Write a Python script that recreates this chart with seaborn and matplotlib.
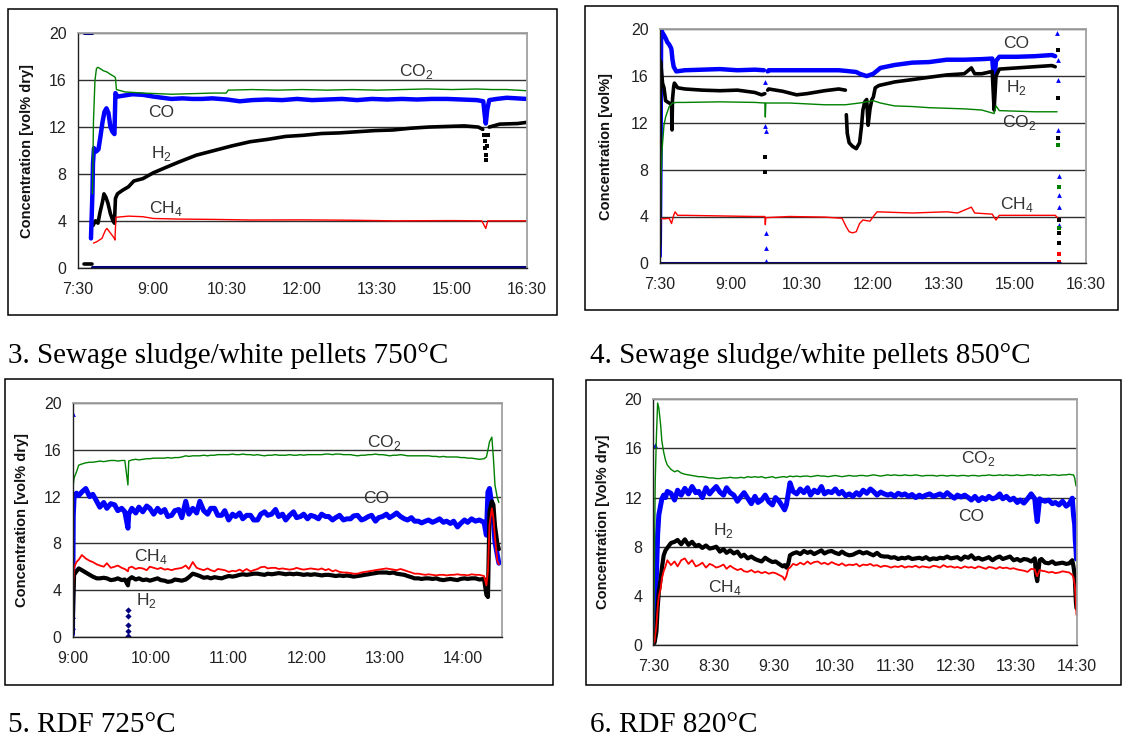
import numpy as np
import pandas as pd
import matplotlib
matplotlib.use("Agg")
import matplotlib.pyplot as plt
from matplotlib.patches import Rectangle
from matplotlib.ticker import FuncFormatter
import seaborn as sns

sns.set_style("white")
plt.rcParams["font.family"] = ["Liberation Sans", "DejaVu Sans"]
plt.rcParams["mathtext.fontset"] = "custom"
plt.rcParams["mathtext.rm"] = "Liberation Sans"

# ---------------- panel 3: sewage sludge 750 C (hours, vol%) ----------------
p1_co2_t = [7.80, 7.82, 7.85, 7.88, 7.91, 7.95, 8.02, 8.09, 8.16, 8.24, 8.26, 8.28, 8.45, 8.81, 9.10,
            9.38, 9.80, 10.20, 10.48, 10.52, 11.0, 11.5, 12.0, 12.5, 13.0, 13.5, 14.0, 14.5, 15.0,
            15.5, 15.8, 16.1, 16.5]
p1_co2 = [6.3, 12.5, 16.0, 17.0, 17.1, 17.0, 16.8, 16.7, 16.5, 16.3, 16.2, 15.2, 15.0, 14.9, 14.85,
          14.8, 14.85, 14.9, 14.9, 15.15, 15.2, 15.15, 15.2, 15.15, 15.2, 15.15, 15.2, 15.25, 15.2,
          15.25, 15.2, 15.2, 15.1]
p1_co_t = [7.77, 7.80, 7.81, 7.83, 7.87, 7.92, 7.96, 8.0, 8.04, 8.08, 8.12, 8.16, 8.2, 8.24, 8.26,
           8.3, 8.45, 8.6, 8.81, 9.02, 9.2, 9.38, 9.6, 9.8, 10.0, 10.2, 10.5, 10.75, 11.0, 11.3,
           11.6, 11.9, 12.2, 12.5, 12.8, 13.1, 13.4, 13.7, 14.0, 14.3, 14.6, 14.9, 15.2, 15.5,
           15.63, 15.66, 15.68, 15.71, 15.75, 15.9, 16.1, 16.3, 16.5]
p1_co = [2.5, 6.5, 8.9, 10.2, 9.9, 10.1, 11.2, 12.4, 13.3, 13.6, 13.2, 12.0, 11.6, 11.4, 14.9,
         14.6, 14.7, 14.8, 14.75, 14.6, 14.5, 14.4, 14.45, 14.4, 14.4, 14.45, 14.35, 14.2, 14.3, 14.35,
         14.3, 14.4, 14.3, 14.35, 14.4, 14.3, 14.4, 14.35, 14.4, 14.35, 14.4, 14.4, 14.35, 14.3,
         14.2, 13.0, 12.3, 13.5, 14.3, 14.4, 14.5, 14.45, 14.4]
p1_h2_t = [7.63, 7.79, None,
           7.81, 7.86, 7.91, 7.95, 8.0, 8.03, 8.07, 8.11, 8.16, 8.21, 8.24, 8.26, 8.3, 8.4, 8.52,
           8.63, 8.81, 9.02, 9.24, 9.52, 9.88, 10.24, 10.6, 10.96, 11.31, 11.67, 12.03, 12.39, 12.74,
           13.1, 13.46, 13.82, 14.17, 14.53, 14.89, 15.25, 15.53, 15.62, None,
           15.75, 15.96, 16.32, 16.5]
p1_h2 = [0.3, 0.3, None,
         3.6, 4.0, 3.8, 4.7, 5.6, 6.3, 6.0, 5.5, 4.6, 4.0, 3.8, 5.9, 6.3, 6.6, 6.9,
         7.4, 7.6, 8.1, 8.5, 9.0, 9.6, 10.0, 10.4, 10.75, 10.95, 11.2, 11.3, 11.45, 11.5,
         11.6, 11.7, 11.75, 11.9, 12.0, 12.05, 12.1, 12.0, 11.8, None,
         12.0, 12.25, 12.3, 12.4]
p1_h2_pts_t = [15.64, 15.66, 15.67, 15.68, 15.69, 15.71, 15.73]
p1_h2_pts = [11.3, 10.8, 10.2, 9.6, 9.2, 10.4, 11.3]
p1_ch4_t = [7.82, 7.88, 7.99, 8.06, 8.09, 8.17, 8.24, 8.25, 8.27, 8.52, 8.81, 9.02, 9.52, 10.24,
            10.96, 12.0, 13.0, 13.82, 15.0, 15.6, 15.68, 15.72, 15.8, 16.5]
p1_ch4 = [2.1, 2.2, 2.5, 3.2, 3.35, 2.9, 2.5, 2.36, 4.3, 4.4, 4.35, 4.2, 4.15, 4.12,
          4.07, 4.08, 4.05, 4.0, 4.02, 4.0, 3.35, 4.0, 4.0, 4.0]
p1_o2_t = [7.63, 7.79, None, 7.80, 16.5]
p1_o2 = [20.0, 20.0, None, 0.05, 0.05]

# ---------------- panel 4: sewage sludge 850 C ----------------
p2_co_t = [7.50, 7.52, 7.53, 7.56, 7.59, 7.63, 7.66, 7.70, 7.74, 7.75, 7.77, 7.795, 7.85, 8.03,
           8.4, 8.77, 9.14, 9.51, 9.70, None, 9.78, 9.80, 10.24, 10.61, 10.98, 11.28, 11.42,
           11.65, 11.72, 11.87, 12.01, 12.16, 12.46, 12.83, 13.19, 13.56, 13.93, 14.30, 14.52,
           14.56, 14.60, 14.67, 15.04, 15.41, 15.78, 15.85]
p2_co = [0.6, 10.3, 19.9, 19.7, 19.5, 19.2, 18.9, 18.7, 18.4, 18.2, 17.4, 16.8, 16.4, 16.5,
         16.55, 16.6, 16.5, 16.55, 16.5, None, 16.4, 16.5, 16.5, 16.5, 16.5, 16.5, 16.45,
         16.35, 16.2, 16.0, 16.2, 16.7, 16.95, 17.15, 17.2, 17.4, 17.4, 17.45, 17.5,
         15.4, 17.3, 17.65, 17.65, 17.7, 17.8, 17.7]
p2_co_pts_t = [9.73, 9.73, 9.735, 9.735, 9.735, 9.74, 15.89, 15.90, 15.90, 15.91, 15.92, 15.92,
               15.93, 15.94]
p2_co_pts = [15.5, 11.7, 11.3, 2.6, 1.3, 0.2, 19.7, 17.4, 15.7, 11.4, 7.5, 5.8, 4.8, 3.3]
p2_h2_t = [7.50, 7.515, 7.53, 7.56, 7.59, 7.61, 7.625, 7.66, 7.70, 7.74, 7.75, 7.76, 7.77, 7.795,
           7.81, 7.88, 8.03, 8.4, 8.77, 9.14, 9.51, 9.65, 9.72, None, 9.78, 9.80, 10.10, 10.39,
           10.61, 10.98, 11.28, 11.42, None,
           11.44, 11.46, 11.50, 11.57, 11.65, 11.72, 11.76, 11.79, 11.83, 11.87, 11.90, 11.94,
           11.98, 12.01, 12.05, 12.13, 12.24, 12.46, 12.83, 13.19, 13.56, 13.93, 14.08, 14.15,
           14.30, 14.52, 14.56, 14.60, 14.67, 15.04, 15.41, 15.78, 15.85]
p2_h2 = [1.5, 17.3, 16.8, 15.4, 15.0, 14.4, 13.9, 13.8, 13.7, 13.6, 13.5, 11.4, 14.0, 15.1,
         15.4, 15.0, 14.9, 14.8, 14.75, 14.8, 14.6, 14.4, 14.5, None, 14.8, 14.9, 14.7, 14.4,
         14.5, 14.75, 14.9, 14.8, None,
         12.7, 11.1, 10.3, 10.0, 9.8, 10.3, 11.7, 13.1, 13.8, 14.0, 11.8, 13.2,
         14.0, 14.2, 15.0, 15.2, 15.3, 15.5, 15.7, 15.9, 16.1, 16.2, 16.7, 16.2,
         16.2, 16.4, 13.1, 16.0, 16.6, 16.7, 16.8, 16.9, 16.8]
p2_h2_pts_t = [9.73, 9.73, 15.90, 15.91, 15.91, 15.93, 15.93, 15.94]
p2_h2_pts = [9.1, 7.8, 18.2, 14.1, 10.7, 3.7, 2.6, 1.7]
p2_co2_t = [7.50, 7.53, 7.55, 7.59, 7.625, 7.70, 7.77, 7.85, 8.03, 8.77, 9.51, 9.72, 9.73, 9.74,
            10.24, 10.98, 11.42, 11.72, 12.01, 12.16, 12.46, 12.83, 13.19, 13.56, 13.93, 14.30,
            14.56, 14.60, 14.67, 15.04, 15.41, 15.89]
p2_co2 = [0.2, 7.4, 9.7, 11.8, 12.5, 13.4, 13.7, 13.75, 13.75, 13.8, 13.75, 13.7, 12.5, 13.7,
          13.7, 13.55, 13.55, 13.7, 13.9, 13.7, 13.45, 13.4, 13.3, 13.25, 13.2, 13.1,
          12.8, 13.45, 13.05, 13.0, 12.95, 12.95]
p2_co2_pts_t = [15.91, 15.92, 15.93]
p2_co2_pts = [10.1, 6.5, 3.0]
p2_ch4_t = [7.50, 7.52, 7.59, 7.70, 7.75, 7.795, 7.825, 7.88, 8.03, 8.77, 9.51, 9.72, 9.73, 9.74,
            10.24, 10.98, 11.35, 11.44, 11.50, 11.57, 11.65, 11.72, 11.79, 11.94, 12.01, 12.09,
            12.46, 12.83, 13.19, 13.56, 13.79, 14.08, 14.15, 14.52, 14.60, 14.67, 15.41, 15.85,
            15.90]
p2_ch4 = [1.0, 3.85, 3.8, 3.85, 3.4, 4.1, 4.4, 4.1, 4.1, 4.05, 4.0, 4.0, 3.3, 3.9,
          4.0, 3.95, 3.85, 3.1, 2.7, 2.6, 2.7, 3.4, 3.7, 3.6, 4.0, 4.4,
          4.35, 4.3, 4.35, 4.4, 4.3, 4.8, 4.3, 4.2, 3.7, 4.1, 4.1, 4.1,
          3.9]
p2_ch4_pts_t = [15.92, 15.93]
p2_ch4_pts = [0.8, 0.1]
p2_o2_t = [7.50, 15.95]
p2_o2 = [0.05, 0.05]

# ---------------- panel 5: RDF 725 C (shared time grid) ----------------
p3_t = [9.0, 9.01, 9.02, 9.05, 9.08, 9.12, 9.17, 9.22, 9.26, 9.31,
        9.35, 9.40, 9.44, 9.49, 9.54, 9.58, 9.63, 9.67, 9.71, 9.72,
        9.76, 9.81, 9.85, 9.90, 9.95, 9.99, 10.04, 10.09, 10.13, 10.18,
        10.22, 10.27, 10.31, 10.36, 10.40, 10.45, 10.49, 10.54, 10.59, 10.63,
        10.68, 10.73, 10.77, 10.82, 10.86, 10.91, 10.95, 11.00, 11.05, 11.09,
        11.14, 11.18, 11.23, 11.28, 11.32, 11.37, 11.41, 11.46, 11.50, 11.55,
        11.60, 11.64, 11.69, 11.73, 11.78, 11.83, 11.87, 11.92, 11.96, 12.01,
        12.05, 12.10, 12.15, 12.19, 12.24, 12.28, 12.33, 12.37, 12.42, 12.47,
        12.51, 12.56, 12.60, 12.65, 12.70, 12.74, 12.79, 12.83, 12.88, 12.92,
        12.97, 13.02, 13.06, 13.11, 13.15, 13.20, 13.25, 13.29, 13.34, 13.38,
        13.43, 13.47, 13.52, 13.56, 13.61, 13.66, 13.70, 13.75, 13.79, 13.84,
        13.88, 13.93, 13.97, 14.02, 14.06, 14.11, 14.16, 14.21, 14.27, 14.30,
        14.32, 14.34, 14.37, 14.39, 14.41, 14.44, 14.46]
p3_co2 = [12.7, 13.0, 13.6, 14.1, 14.7, 14.8, 14.9, 14.95, 14.95, 15.0,
          15.05, 15.0, 15.05, 15.1, 15.1, 15.05, 15.1, 15.1, 13.0, 15.05,
          15.15, 15.2, 15.15, 15.2, 15.25, 15.25, 15.3, 15.3, 15.3, 15.3,
          15.35, 15.3, 15.35, 15.35, 15.4, 15.5, 15.45, 15.5, 15.5, 15.5,
          15.55, 15.5, 15.55, 15.55, 15.6, 15.6, 15.6, 15.6, 15.65, 15.6,
          15.6, 15.65, 15.6, 15.6, 15.55, 15.6, 15.55, 15.5, 15.55, 15.55,
          15.6, 15.55, 15.55, 15.55, 15.6, 15.55, 15.55, 15.6, 15.55, 15.6,
          15.6, 15.6, 15.6, 15.6, 15.65, 15.65, 15.6, 15.65, 15.65, 15.6,
          15.6, 15.6, 15.55, 15.5, 15.55, 15.55, 15.6, 15.6, 15.65, 15.6,
          15.6, 15.55, 15.5, 15.55, 15.55, 15.6, 15.55, 15.5, 15.5, 15.5,
          15.5, 15.5, 15.5, 15.5, 15.45, 15.45, 15.4, 15.45, 15.4, 15.4,
          15.4, 15.4, 15.35, 15.35, 15.3, 15.3, 15.25, 15.2, 15.25, 15.4,
          16.0, 16.7, 17.1, 15.3, 13.0, 11.9, 11.5]
p3_co = [0.2, 10.4, 11.9, 12.3, 12.1, 12.4, 12.7, 12.0, 12.2, 11.6,
         11.1, 11.5, 11.0, 11.4, 11.3, 10.8, 11.0, 10.7, 9.3, 10.5,
         11.0, 10.6, 11.1, 10.7, 11.2, 11.0, 10.5, 11.0, 10.65, 10.9,
         10.3, 10.4, 10.8, 10.9, 10.2, 11.6, 10.5, 11.0, 10.6, 11.6,
         10.8, 10.5, 11.0, 11.0, 10.4, 10.4, 10.8, 10.0, 10.5, 10.3,
         10.6, 10.1, 10.4, 10.4, 10.0, 10.0, 10.5, 10.7, 10.4, 10.5,
         10.9, 10.3, 10.5, 10.0, 10.4, 10.7, 10.2, 10.3, 10.5, 10.1,
         10.4, 10.3, 10.1, 10.5, 10.3, 10.3, 10.0, 10.2, 10.4, 10.0,
         10.1, 10.1, 10.35, 10.4, 10.0, 10.1, 10.3, 10.4, 9.9, 10.2,
         10.3, 10.5, 10.2, 10.4, 10.6, 10.3, 10.1, 10.0, 10.2, 9.9,
         9.9, 9.75, 9.9, 10.0, 9.8, 9.95, 10.1, 9.8, 9.9, 9.7,
         9.9, 9.4, 9.7, 10.0, 9.8, 10.1, 9.9, 10.0, 9.8, 8.7,
         12.4, 12.7, 11.2, 10.0, 8.1, 7.0, 6.3]
p3_co_pts_t = [9.005, 9.005, 9.008]
p3_co_pts = [19.1, 1.8, 0.8]
p3_ch4 = [0.5, 4.5, 5.9, 6.4, 6.6, 7.0, 6.7, 6.5, 6.4, 6.2,
          6.1, 6.0, 6.3, 5.9, 6.0, 6.1, 5.9, 5.8, 5.6, 5.9,
          6.0, 5.8, 5.9, 5.85, 5.7, 6.0, 5.9, 5.8, 5.9, 5.75,
          5.8, 5.7, 5.8, 5.85, 5.9, 6.1, 5.8, 6.4, 5.9, 5.8,
          5.7, 5.85, 5.7, 5.6, 5.8, 5.75, 5.7, 5.55, 5.65, 5.6,
          5.75, 5.6, 5.8, 5.6, 5.7, 5.8, 5.95, 6.0, 5.85, 5.9,
          5.9, 5.8, 5.85, 5.8, 5.75, 5.8, 5.9, 5.8, 5.75, 5.8,
          5.85, 5.8, 5.75, 5.85, 5.7, 5.8, 5.6, 5.7, 5.55, 5.5,
          5.5, 5.45, 5.4, 5.4, 5.5, 5.55, 5.6, 5.65, 5.7, 5.75,
          5.8, 5.85, 5.8, 5.75, 5.7, 5.8, 5.7, 5.6, 5.5, 5.4,
          5.4, 5.35, 5.3, 5.35, 5.3, 5.25, 5.3, 5.3, 5.25, 5.3,
          5.3, 5.35, 5.3, 5.3, 5.25, 5.35, 5.3, 5.3, 5.2, 4.4,
          5.6, 9.6, 11.0, 10.2, 8.5, 6.5, 6.2]
p3_h2 = [0.3, 3.0, 5.3, 5.6, 5.85, 5.7, 5.5, 5.3, 5.15, 5.0,
         5.0, 5.05, 5.0, 4.85, 4.9, 5.0, 4.85, 4.9, 4.4, 4.9,
         5.1, 4.9, 5.0, 4.85, 4.9, 4.8, 4.9, 5.0, 4.85, 4.8,
         4.7, 4.75, 4.9, 4.85, 4.8, 4.9, 5.1, 5.4, 5.3, 5.2,
         5.05, 5.1, 5.0, 5.1, 5.05, 5.0, 5.1, 5.2, 5.15, 5.2,
         5.3, 5.35, 5.3, 5.35, 5.4, 5.4, 5.35, 5.3, 5.4, 5.35,
         5.4, 5.45, 5.4, 5.35, 5.4, 5.35, 5.4, 5.35, 5.3, 5.35,
         5.3, 5.35, 5.3, 5.25, 5.3, 5.3, 5.25, 5.2, 5.25, 5.2,
         5.25, 5.2, 5.15, 5.2, 5.25, 5.3, 5.35, 5.4, 5.45, 5.5,
         5.5, 5.5, 5.45, 5.5, 5.4, 5.35, 5.3, 5.2, 5.1, 5.0,
         5.0, 4.95, 5.0, 5.0, 4.95, 5.0, 4.9, 4.85, 4.9, 4.95,
         4.9, 4.85, 4.95, 5.0, 4.95, 5.0, 5.0, 4.9, 4.95, 3.6,
         3.4, 10.7, 11.6, 11.3, 9.5, 8.0, 7.5]
p3_o2_pts_t = [9.71, 9.71, 9.71, 9.715, 9.715]
p3_o2_pts = [2.3, 1.8, 1.0, 0.5, 0.1]

# ---------------- panel 6: RDF 820 C (shared time grid) ----------------
p4_t = [7.50, 7.51, 7.52, 7.53, 7.55, 7.57, 7.59, 7.62, 7.64, 7.67,
        7.70, 7.73, 7.79, 7.85, 7.90, 7.96, 8.02, 8.08, 8.14, 8.20,
        8.25, 8.31, 8.37, 8.43, 8.48, 8.54, 8.60, 8.66, 8.71, 8.77,
        8.83, 8.89, 8.95, 9.00, 9.06, 9.12, 9.18, 9.23, 9.29, 9.35,
        9.41, 9.47, 9.52, 9.58, 9.64, 9.67, 9.70, 9.73, 9.76, 9.81,
        9.87, 9.93, 9.99, 10.05, 10.10, 10.16, 10.22, 10.28, 10.33, 10.39,
        10.45, 10.51, 10.57, 10.62, 10.68, 10.74, 10.80, 10.86, 10.91, 10.97,
        11.03, 11.09, 11.14, 11.20, 11.26, 11.32, 11.38, 11.43, 11.49, 11.55,
        11.61, 11.66, 11.72, 11.78, 11.84, 11.90, 11.95, 12.01, 12.07, 12.13,
        12.19, 12.24, 12.30, 12.36, 12.42, 12.48, 12.53, 12.59, 12.65, 12.71,
        12.76, 12.82, 12.88, 12.94, 13.00, 13.05, 13.11, 13.17, 13.23, 13.28,
        13.34, 13.40, 13.46, 13.52, 13.57, 13.63, 13.69, 13.75, 13.81, 13.83,
        13.85, 13.89, 13.92, 13.98, 14.04, 14.10, 14.15, 14.21, 14.27, 14.33,
        14.38, 14.43, 14.45, 14.47, 14.48, 14.49, 14.50]
p4_co2 = [0.2, 3.0, 8.4, 13.3, 17.0, 19.7, 19.3, 17.9, 16.6, 15.7,
          15.05, 14.65, 14.3, 14.1, 14.2, 14.0, 13.9, 13.85, 13.8, 13.75,
          13.7, 13.7, 13.65, 13.6, 13.6, 13.55, 13.55, 13.6, 13.6, 13.65,
          13.6, 13.6, 13.65, 13.6, 13.7, 13.65, 13.7, 13.65, 13.7, 13.6,
          13.65, 13.7, 13.6, 13.65, 13.7, 13.7, 13.65, 13.7, 13.75, 13.7,
          13.75, 13.7, 13.75, 13.75, 13.7, 13.75, 13.8, 13.75, 13.75, 13.7,
          13.75, 13.8, 13.75, 13.7, 13.75, 13.8, 13.75, 13.75, 13.8, 13.8,
          13.75, 13.8, 13.85, 13.8, 13.75, 13.8, 13.85, 13.8, 13.85, 13.8,
          13.8, 13.85, 13.8, 13.8, 13.85, 13.8, 13.75, 13.8, 13.8, 13.8,
          13.75, 13.8, 13.8, 13.75, 13.8, 13.8, 13.75, 13.8, 13.8, 13.75,
          13.8, 13.8, 13.75, 13.8, 13.8, 13.85, 13.8, 13.8, 13.85, 13.8,
          13.85, 13.8, 13.8, 13.85, 13.8, 13.8, 13.85, 13.85, 13.8, 13.8,
          13.85, 13.8, 13.85, 13.85, 13.8, 13.85, 13.85, 13.8, 13.85, 13.85,
          13.9, 13.85, 13.85, 13.6, 13.3, 13.0, 12.9]
p4_co = [0.2, 0.5, 1.6, 3.0, 5.7, 9.0, 10.6, 11.4, 11.9, 12.2,
         12.0, 12.5, 12.35, 11.8, 12.6, 12.2, 12.75, 12.3, 12.9, 12.4,
         12.5, 12.0, 12.8, 12.3, 12.6, 12.9, 12.45, 12.2, 12.8, 12.4,
         12.2, 11.7, 12.1, 12.4, 11.95, 11.5, 12.1, 11.6, 11.8, 12.2,
         11.65, 11.4, 12.0, 11.7, 11.25, 11.0, 11.4, 12.3, 13.2, 12.5,
         12.3, 12.7, 12.4, 12.8, 12.2, 12.6, 12.4, 12.9, 12.3, 12.5,
         12.4, 12.7, 12.3, 12.5, 12.15, 12.3, 12.1, 12.4, 12.2, 12.6,
         12.35, 12.7, 12.5, 12.2, 12.45, 12.3, 12.2, 12.3, 12.1, 12.35,
         12.2, 12.3, 12.1, 12.25, 12.0, 12.2, 12.05, 12.2, 12.3, 12.1,
         12.2, 12.3, 12.1, 12.4, 12.15, 11.95, 12.2, 12.05, 12.2, 12.0,
         11.8, 12.1, 11.75, 12.0, 11.85, 12.1, 11.9, 12.0, 12.3, 11.9,
         12.1, 11.8, 11.95, 11.6, 11.8, 11.55, 11.9, 12.3, 11.9, 10.85,
         10.05, 11.9, 11.8, 11.7, 11.8, 11.5, 11.6, 11.4, 11.7, 11.3,
         11.5, 11.95, 10.6, 9.8, 8.5, 7.9, 7.0]
p4_co_pts_t = [7.52]
p4_co_pts = [16.3]
p4_h2 = [0.1, 0.2, 0.2, 0.5, 1.1, 3.0, 4.35, 5.4, 6.25, 7.3,
         7.7, 7.9, 8.3, 8.4, 8.55, 8.2, 8.6, 8.15, 8.4, 8.05,
         8.15, 7.9, 8.1, 7.85, 7.9, 8.0, 7.6, 7.8, 7.5, 7.7,
         7.45, 7.6, 7.2, 7.35, 7.05, 7.2, 7.0, 6.9, 6.8, 7.1,
         6.9, 6.75, 6.8, 6.6, 6.4, 6.5, 6.3, 6.6, 7.3, 7.45,
         7.55, 7.4, 7.65, 7.5, 7.6, 7.4, 7.55, 7.7, 7.45, 7.6,
         7.65, 7.5, 7.4, 7.6, 7.4, 7.3, 7.35, 7.5, 7.6, 7.45,
         7.55, 7.4, 7.3, 7.5, 7.25, 7.2, 7.2, 7.1, 7.15, 7.0,
         7.1, 7.05, 7.15, 7.0, 7.05, 7.1, 7.0, 7.15, 6.95, 7.05,
         7.0, 7.1, 7.05, 7.2, 7.05, 7.1, 7.15, 6.95, 7.2, 7.1,
         7.3, 7.0, 7.1, 6.95, 7.05, 7.15, 6.9, 7.1, 7.2, 7.0,
         7.1, 7.2, 6.9, 7.0, 6.85, 7.0, 6.95, 6.8, 7.05, 5.7,
         5.2, 6.9, 7.0, 6.7, 6.65, 6.8, 6.6, 6.65, 6.7, 6.6,
         6.65, 6.9, 6.4, 5.7, 4.5, 3.5, 3.0]
p4_ch4 = [0.1, 0.2, 0.3, 0.8, 1.6, 3.0, 4.0, 4.6, 5.4, 6.0,
          6.4, 6.9, 6.5, 6.8, 6.4, 6.9, 7.05, 6.6, 6.9, 6.4,
          6.5, 6.7, 6.3, 6.6, 6.5, 6.3, 6.4, 6.55, 6.2, 6.45,
          6.25, 6.1, 6.2, 6.0, 5.95, 6.1, 5.9, 6.0, 5.85, 5.95,
          5.8, 5.9, 5.85, 5.7, 5.55, 5.3, 5.6, 6.2, 6.3, 6.6,
          6.5, 6.7, 6.55, 6.8, 6.6, 6.75, 6.8, 6.6, 6.7, 6.55,
          6.75, 6.6, 6.5, 6.65, 6.45, 6.55, 6.5, 6.6, 6.4, 6.55,
          6.5, 6.6, 6.45, 6.5, 6.35, 6.45, 6.4, 6.3, 6.4, 6.35,
          6.45, 6.3, 6.4, 6.35, 6.45, 6.3, 6.4, 6.35, 6.3, 6.45,
          6.4, 6.3, 6.5, 6.35, 6.4, 6.3, 6.35, 6.25, 6.4, 6.3,
          6.35, 6.25, 6.4, 6.3, 6.2, 6.35, 6.3, 6.2, 6.35, 6.25,
          6.3, 6.2, 6.25, 6.15, 6.1, 6.05, 5.95, 6.2, 6.15, 5.8,
          5.6, 6.1, 6.05, 6.0, 5.9, 5.95, 5.85, 5.9, 6.0, 5.95,
          5.9, 5.7, 5.5, 4.9, 4.35, 3.4, 2.45]

C_CO, C_H2, C_CO2, C_CH4, C_O2 = "#0000ff", "#000000", "#008000", "#ff0000", "#000080"

W, H = 1128, 738


def draw(ax, t, v, color, lw):
    # None in the lists breaks the trace into separate pieces
    seg, s = [], 0
    for a in t:
        if a is None:
            s += 1
        seg.append(s)
    df = pd.DataFrame({"t": t, "v": v, "seg": seg}).dropna()
    sns.lineplot(data=df, x="t", y="v", units="seg", estimator=None, sort=False,
                 color=color, lw=lw, ax=ax, legend=False)


def dots(ax, t, v, color, size=9, marker="s"):
    sns.scatterplot(x=t, y=v, color=color, s=size, marker=marker, linewidth=0,
                    ax=ax, legend=False)


def hm(x, pos):
    h = int(x)
    m = int(round((x - h) * 60))
    return f"{h}:{m:02d}"


def make_ax(fig, l, r, t, b):
    return fig.add_axes([l / W, 1 - b / H, (r - l) / W, (b - t) / H])


def finish(ax, xlim, xticks, ylabel, lab_x):
    ax.set_xlim(*xlim)
    ax.set_ylim(0, 20)
    ax.set_yticks([0, 4, 8, 12, 16, 20])
    ax.set_xticks(xticks)
    ax.xaxis.set_major_formatter(FuncFormatter(hm))
    ax.set_axisbelow(True)
    ax.yaxis.grid(True, color="#303030", lw=1.0)
    for side in ["top", "right"]:
        ax.spines[side].set_color("#a0a0a0")
        ax.spines[side].set_linewidth(1.3)
    for side in ["left", "bottom"]:
        ax.spines[side].set_color("#202020")
        ax.spines[side].set_linewidth(1.0)
    ax.tick_params(axis="both", direction="out", length=4, width=1, color="#202020",
                   labelsize=11.5, labelcolor="#222222", pad=4)
    ax.tick_params(axis="x", pad=6)
    ax.set_xlabel("")
    ax.set_ylabel(ylabel, fontsize=10.5, fontweight="bold", color="#111111")
    ax.yaxis.set_label_coords(lab_x, 0.5)


def gas_label(ax, x, y, s):
    ax.text(x, y, s, ha="center", va="center", fontsize=12.5, color="#333333")


fig = plt.figure(figsize=(W / 100, H / 100), dpi=100)

# framed boxes round each chart
for (x0, y0, x1, y1) in [(8, 9, 557, 315), (585, 6, 1118, 310),
                         (5, 379, 553, 685), (586, 380, 1121, 685)]:
    fig.add_artist(Rectangle((x0 / W, 1 - y1 / H), (x1 - x0) / W, (y1 - y0) / H,
                             transform=fig.transFigure, fill=False, ec="black", lw=1.1))

ticks_15 = [7.5, 9.0, 10.5, 12.0, 13.5, 15.0, 16.5]

ax1 = make_ax(fig, 77.5, 526.7, 33.3, 267.7)
draw(ax1, p1_h2_t, p1_h2, C_H2, 2.6)
dots(ax1, p1_h2_pts_t, p1_h2_pts, C_H2)
draw(ax1, p1_co_t, p1_co, C_CO, 3.2)
draw(ax1, p1_ch4_t, p1_ch4, C_CH4, 1.0)
draw(ax1, p1_co2_t, p1_co2, C_CO2, 1.0)
draw(ax1, p1_o2_t, p1_o2, C_O2, 2.2)
finish(ax1, (7.5, 16.5), ticks_15, "Concentration [vol% dry]", -0.097)
gas_label(ax1, 14.28, 16.7, r"CO$_\mathregular{2}$")
gas_label(ax1, 9.17, 13.2, "CO")
gas_label(ax1, 9.18, 9.75, r"H$_\mathregular{2}$")
gas_label(ax1, 9.27, 5.05, r"CH$_\mathregular{4}$")

ax2 = make_ax(fig, 659.7, 1086, 29.3, 263.3)
draw(ax2, p2_co_t, p2_co, C_CO, 3.2)
dots(ax2, p2_co_pts_t, p2_co_pts, C_CO, 12, "^")
draw(ax2, p2_h2_t, p2_h2, C_H2, 2.6)
dots(ax2, p2_h2_pts_t, p2_h2_pts, C_H2)
draw(ax2, p2_ch4_t, p2_ch4, C_CH4, 1.0)
dots(ax2, p2_ch4_pts_t, p2_ch4_pts, C_CH4, 5)
draw(ax2, p2_co2_t, p2_co2, C_CO2, 1.0)
dots(ax2, p2_co2_pts_t, p2_co2_pts, C_CO2, 5)
draw(ax2, p2_o2_t, p2_o2, C_O2, 2.2)
finish(ax2, (7.5, 16.5), ticks_15, "Concentration [vol%]", -0.11)
gas_label(ax2, 15.02, 18.8, "CO")
gas_label(ax2, 15.04, 15.0, r"H$_\mathregular{2}$")
gas_label(ax2, 15.08, 12.0, r"CO$_\mathregular{2}$")
gas_label(ax2, 15.04, 5.0, r"CH$_\mathregular{4}$")

ax3 = make_ax(fig, 72.5, 502, 403.3, 636.7)
draw(ax3, p3_t, p3_co, C_CO, 3.6)
dots(ax3, p3_co_pts_t, p3_co_pts, C_CO, 12, "^")
draw(ax3, p3_t, p3_h2, C_H2, 3.0)
draw(ax3, p3_t, p3_ch4, C_CH4, 1.3)
draw(ax3, p3_t, p3_co2, C_CO2, 1.0)
dots(ax3, p3_o2_pts_t, p3_o2_pts, C_O2, 10, "D")
finish(ax3, (9.0, 14.5), [9.0, 10.0, 11.0, 12.0, 13.0, 14.0],
       "Concentration [vol% dry]", -0.102)
gas_label(ax3, 12.99, 16.6, r"CO$_\mathregular{2}$")
gas_label(ax3, 12.89, 11.8, "CO")
gas_label(ax3, 10.0, 6.86, r"CH$_\mathregular{4}$")
gas_label(ax3, 9.95, 3.14, r"H$_\mathregular{2}$")

ax4 = make_ax(fig, 653.4, 1076.5, 399.3, 645)
draw(ax4, p4_t, p4_co, C_CO, 3.6)
dots(ax4, p4_co_pts_t, p4_co_pts, C_CO, 12, "^")
draw(ax4, p4_t, p4_h2, C_H2, 3.0)
draw(ax4, p4_t, p4_ch4, C_CH4, 1.3)
draw(ax4, p4_t, p4_co2, C_CO2, 1.0)
finish(ax4, (7.5, 14.5), [7.5, 8.5, 9.5, 10.5, 11.5, 12.5, 13.5, 14.5],
       "Concentration [Vol% dry]", -0.103)
gas_label(ax4, 12.87, 15.2, r"CO$_\mathregular{2}$")
gas_label(ax4, 12.75, 10.5, "CO")
gas_label(ax4, 8.66, 9.36, r"H$_\mathregular{2}$")
gas_label(ax4, 8.69, 4.67, r"CH$_\mathregular{4}$")

caps = [(8, 363, "3. Sewage sludge/white pellets 750°C"),
        (590, 363, "4. Sewage sludge/white pellets 850°C"),
        (8, 732, "5. RDF 725°C"),
        (590, 732, "6. RDF 820°C")]
for x, y, s in caps:
    fig.text(x / W, 1 - y / H, s, fontsize=21, family="Liberation Serif",
             va="baseline", ha="left", color="black")

fig.savefig("out.png", dpi=100)
